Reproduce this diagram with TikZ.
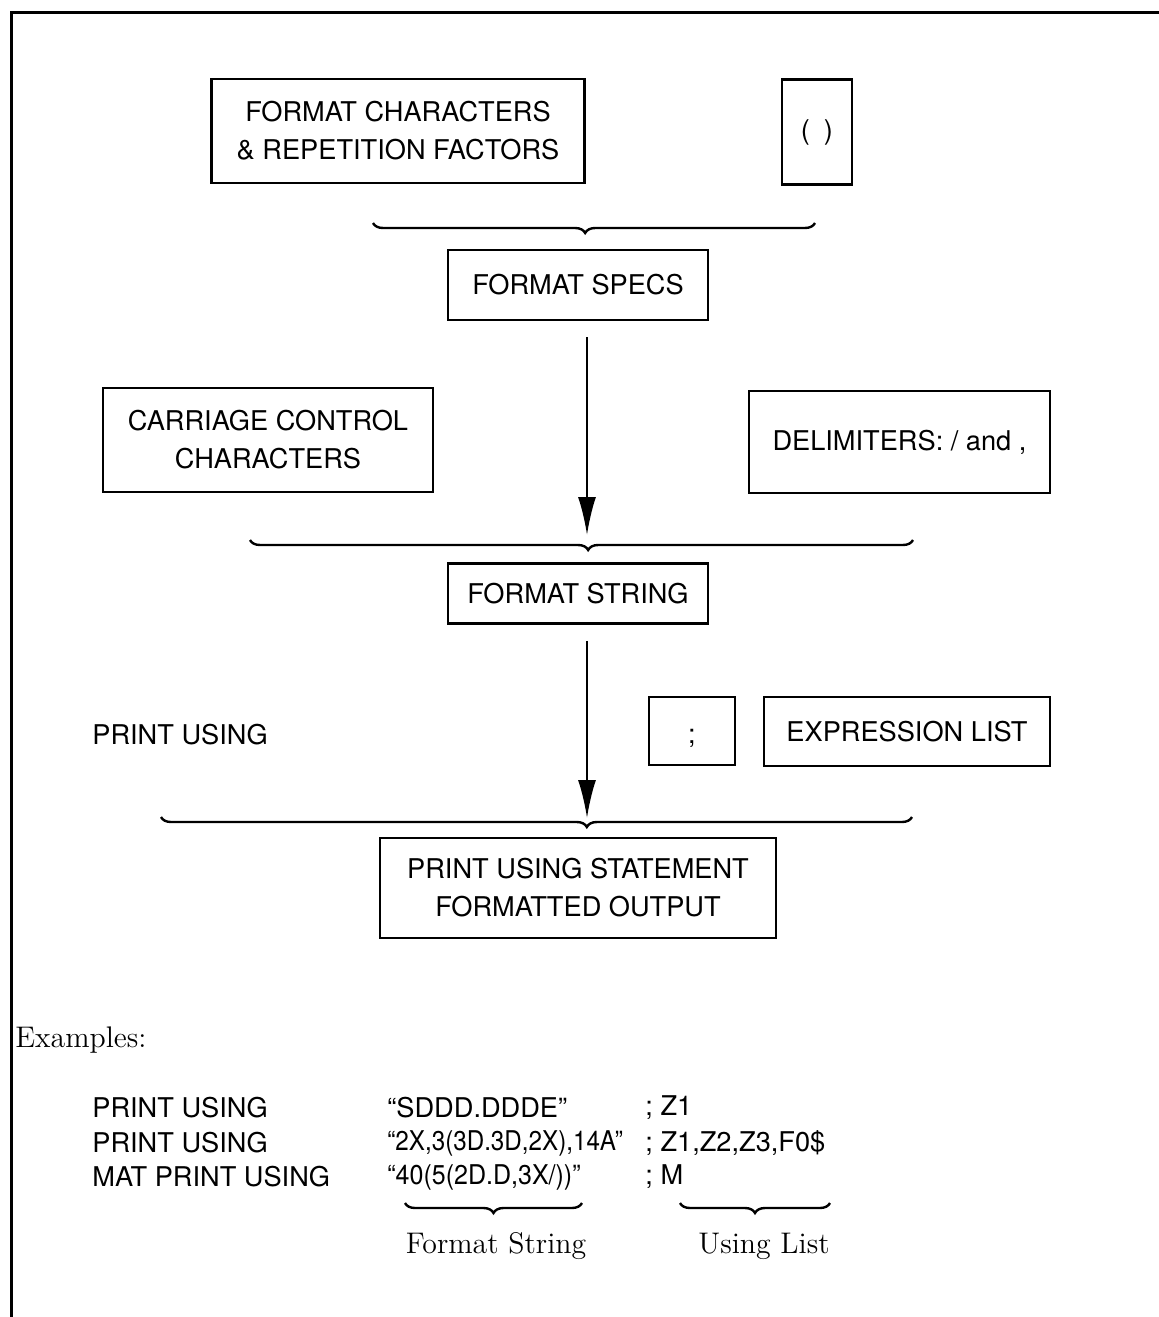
\documentclass[tikz,border=0pt]{standalone}
\usepackage{fontspec}
\setsansfont{TeX Gyre Heros}
\usetikzlibrary{arrows.meta,decorations.pathreplacing}

\tikzset{
  box/.style={draw, line width=1.4pt, align=center, inner sep=0pt, font=\sffamily\fontsize{13.6}{19}\selectfont},
  txt/.style={inner sep=0pt, anchor=west, font=\sffamily\fontsize{13.6}{19}\selectfont},
  serif/.style={inner sep=0pt, font=\rmfamily\fontsize{14.9}{17}\selectfont},
  brc/.style={decorate, decoration={brace, amplitude=5pt, aspect=#1}, line width=1.2pt},
  brc/.default=0.5,
  flow/.style={line width=1.1pt, -{Latex[length=19pt,width=9pt]}},
}

\begin{document}
\begin{tikzpicture}[x=0.5pt, y=-0.5pt]
\useasboundingbox (0,0) rectangle (1159,1317);
\draw[line width=1.5pt] (1159,12) -- (11,12) -- (11,1317);

% first level
\node[box, minimum width=186.5pt, minimum height=52pt] (fchars) at (398,131) {FORMAT CHARACTERS\\\& REPETITION FACTORS};
\node[box, minimum width=35pt, minimum height=52.5pt] (paren) at (817,132) {(\hspace{7pt})};
\coordinate (b1r) at (815,223);
\coordinate (b1l) at (373,223);
\draw[brc=0.52] (b1r) -- (b1l);
\node[box, minimum width=130pt, minimum height=35pt] (fspecs) at (578,285) {FORMAT SPECS};

% second level
\node[box, minimum width=165pt, minimum height=52pt] (carriage) at (268,440) {CARRIAGE CONTROL\\CHARACTERS};
\node[box, minimum width=150.5pt, minimum height=51pt] (delim) at (899.5,442) {DELIMITERS: / and ,};
\coordinate (tip2) at (587,535);
\draw[flow, shorten <=8pt] (fspecs.south -| tip2) -- (tip2);
\coordinate (b2r) at (913,540);
\coordinate (b2l) at (250,540);
\draw[brc=0.49] (b2r) -- (b2l);
\node[box, minimum width=130pt, minimum height=30pt] (fstring) at (578,593.5) {FORMAT STRING};

% third level
\node[txt] (pu) at (92,735) {PRINT USING};
\node[box, minimum width=43pt, minimum height=34pt, text height=14pt, text depth=2pt] (semi) at (692,731) {;};
\node[box, minimum width=143pt, minimum height=34.5pt] (exprlist) at (907,731.5) {EXPRESSION LIST};
\coordinate (tip3) at (587,818);
\draw[flow, shorten <=8pt] (fstring.south -| tip3) -- (tip3);
\coordinate (b3r) at (912,817);
\coordinate (b3l) at (161,817);
\draw[brc=0.433] (b3r) -- (b3l);
\node[box, minimum width=198pt, minimum height=50pt] (output) at (578,888) {PRINT USING STATEMENT\\FORMATTED OUTPUT};

% examples
\node[serif, anchor=west] (ex) at (15,1040) {Examples:};
\node[txt] (r1a) at (92,1108) {PRINT USING};
\node[txt] (r1b) at (387,1108) {“SDDD.DDDE”};
\node[txt] (r1c) at (645,1108) {; Z1};
\node[txt] (r2a) at (92,1143) {PRINT USING};
\node[txt] (r2b) at (387,1143) {\scalebox{0.89}[1]{“2X,3(3D.3D,2X),14A”}};
\node[txt] (r2c) at (645,1143) {; Z1,Z2,Z3,F0\$};
\node[txt] (r3a) at (92,1177) {MAT PRINT USING};
\node[txt] (r3b) at (387,1177) {\scalebox{0.92}[1]{“40(5(2D.D,3X/))”}};
\node[txt] (r3c) at (645,1177) {; M};
\coordinate (b4r) at (582,1203);
\coordinate (b4l) at (405,1203);
\draw[brc] (b4r) -- (b4l);
\coordinate (b5r) at (830,1203);
\coordinate (b5l) at (680,1203);
\draw[brc] (b5r) -- (b5l);
\node[serif] (fslbl) at (496,1246) {Format String};
\node[serif] (ullbl) at (764,1246) {Using List};
\end{tikzpicture}
\end{document}
